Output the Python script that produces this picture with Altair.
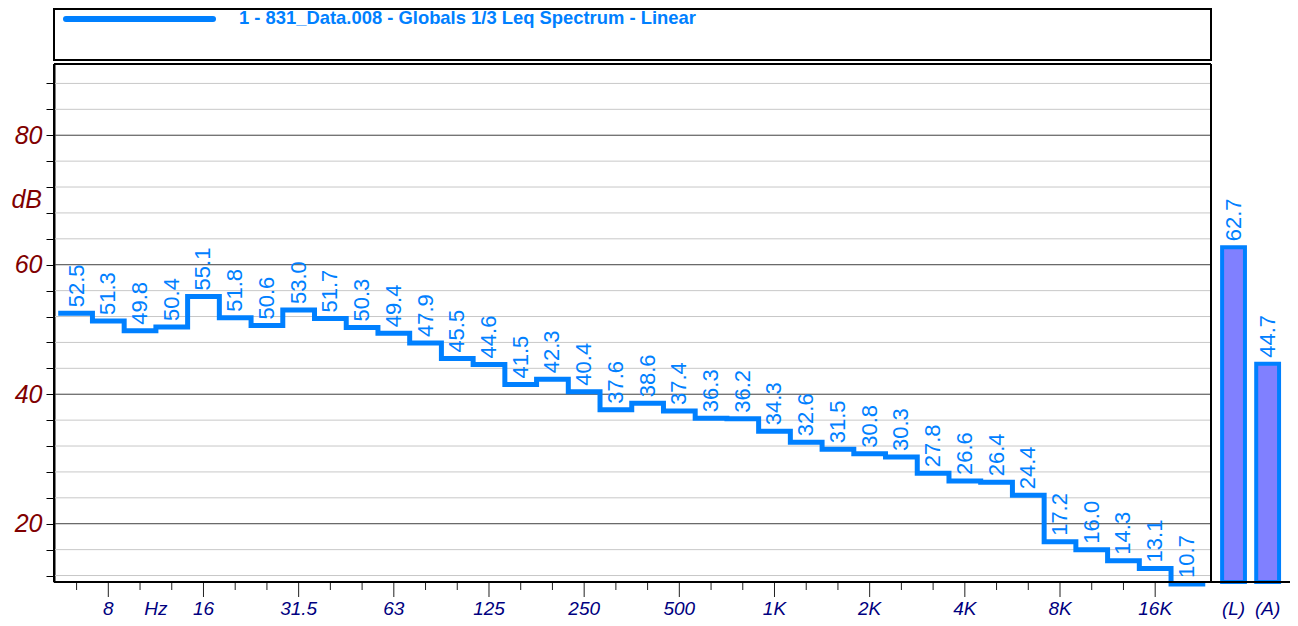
import altair as alt
import pandas as pd

# ---------------- data ----------------
bands = ["6.3", "8", "10", "12.5", "16", "20", "25", "31.5", "40", "50", "63", "80",
         "100", "125", "160", "200", "250", "315", "400", "500", "630", "800", "1K",
         "1.25K", "1.6K", "2K", "2.5K", "3.15K", "4K", "5K", "6.3K", "8K", "10K",
         "12.5K", "16K", "20K"]
levels = [52.5, 51.3, 49.8, 50.4, 55.1, 51.8, 50.6, 53.0, 51.7, 50.3, 49.4, 47.9,
          45.5, 44.6, 41.5, 42.3, 40.4, 37.6, 38.6, 37.4, 36.3, 36.2, 34.3, 32.6,
          31.5, 30.8, 30.3, 27.8, 26.6, 26.4, 24.4, 17.2, 16.0, 14.3, 13.1, 10.7]
ticked_bands = bands[:35]
labeled_bands = ["8", "16", "31.5", "63", "125", "250", "500", "1K", "2K", "4K", "8K", "16K"]
overall_names = ["(L)", "(A)"]
overall_levels = [62.7, 44.7]
y_ticks = list(range(12, 92, 4))
y_unit = "dB"
x_unit = "Hz"
legend_text = "1 - 831_Data.008 - Globals 1/3 Leq Spectrum - Linear"

# ---------------- layout / style ----------------
BLUE = "#0080ff"
FONT = "Liberation Sans"
W, H = 1236, 518
FRAME_R = 1157  # right edge of the spectrum frame (px)

xscale = alt.Scale(domain=[-0.712, 38.25], nice=False, zero=False)
yscale = alt.Scale(domain=[11, 91], nice=False, zero=False)

idx = {b: i for i, b in enumerate(bands)}
n = len(bands)

df_bands = pd.DataFrame({"x": list(range(n)), "v": levels})
df_step = pd.DataFrame({"x": [i - 0.5 for i in range(n)] + [n - 0.5],
                        "v": levels + [levels[-1]]})

bar_c = [36.47 + 1.075 * i for i in range(len(overall_names))]
df_bars = pd.DataFrame({"x1": [c - 0.36 for c in bar_c], "x2": [c + 0.36 for c in bar_c],
                        "x": bar_c, "v": overall_levels, "name": overall_names})

df_grid = pd.DataFrame({"v": y_ticks})
df_ticks_minor = pd.DataFrame({"x": [idx[b] for b in ticked_bands if b not in labeled_bands]})
df_ticks_major = pd.DataFrame({"x": [idx[b] for b in labeled_bands]})
df_xlab = pd.DataFrame({
    "x": [idx[b] for b in labeled_bands] + [(idx["10"] + idx["12.5"]) / 2] + bar_c,
    "t": labeled_bands + [x_unit] + overall_names,
})
one = pd.DataFrame({"a": [0]})

X = alt.X("x:Q", scale=xscale, axis=None)

yaxis = alt.Axis(values=y_ticks, labelExpr="datum.value % 20 == 0 ? datum.label : ''",
                 tickSize=8, tickColor="black", tickWidth=1, domainColor="black",
                 domainWidth=2, labelFont=FONT, labelFontSize=25, labelFontStyle="italic",
                 labelColor="#800000", labelPadding=4, grid=False, title=None,
                 labelOverlap=False)
Y = alt.Y("v:Q", scale=yscale, axis=yaxis)

grid = alt.Chart(df_grid).mark_rule(strokeWidth=1).encode(
    x=alt.value(0), x2=alt.value(FRAME_R), y=Y,
    color=alt.condition("datum.v % 20 == 0", alt.value("#404040"), alt.value("#c8c8c8")),
)

dB = alt.Chart(pd.DataFrame({"v": [70], "t": [y_unit]})).mark_text(
    align="right", baseline="middle", font=FONT, fontSize=25, fontStyle="italic",
    color="#800000").encode(x=alt.value(-12), y=Y, text="t:N")

frame_top = alt.Chart(one).mark_rule(color="black", strokeWidth=2).encode(
    x=alt.value(0), x2=alt.value(FRAME_R), y=alt.value(0))
frame_right = alt.Chart(one).mark_rule(color="black", strokeWidth=2).encode(
    x=alt.value(FRAME_R), y=alt.value(0), y2=alt.value(H))
frame_left = alt.Chart(one).mark_rule(color="black", strokeWidth=2).encode(
    x=alt.value(0), y=alt.value(0), y2=alt.value(H))
frame_bottom = alt.Chart(one).mark_rule(color="black", strokeWidth=2).encode(
    x=alt.value(0), x2=alt.value(W), y=alt.value(H))

leg_box = alt.Chart(one).mark_rect(fill="white", stroke="black", strokeWidth=2).encode(
    x=alt.value(0), x2=alt.value(FRAME_R), y=alt.value(-55), y2=alt.value(-4))
leg_line = alt.Chart(one).mark_rule(color=BLUE, strokeWidth=6, strokeCap="round").encode(
    x=alt.value(12), x2=alt.value(159), y=alt.value(-45))
leg_text = alt.Chart(pd.DataFrame({"t": [legend_text]})).mark_text(
    align="left", baseline="middle", font=FONT, fontSize=18.4, fontWeight="bold",
    color=BLUE).encode(x=alt.value(185), y=alt.value(-46), text="t:N")

step = alt.Chart(df_step).mark_line(interpolate="step-after", color=BLUE, strokeWidth=5,
                                     strokeJoin="miter", strokeCap="square").encode(
    x=X, y=Y)

step_lab = alt.Chart(df_bands).mark_text(angle=270, align="left", baseline="middle", dx=6,
                                         font=FONT, fontSize=22, color=BLUE).encode(
    x=X, y=Y, text=alt.Text("v:Q", format=".1f"))

bars = alt.Chart(df_bars).mark_rect(fill="#8080ff", stroke=BLUE, strokeWidth=4).encode(
    x=alt.X("x1:Q", scale=xscale, axis=None), x2="x2:Q",
    y=Y, y2=alt.datum(11))

bar_lab = alt.Chart(df_bars).mark_text(angle=270, align="left", baseline="middle", dx=6,
                                       font=FONT, fontSize=22, color=BLUE).encode(
    x=X, y=Y, text=alt.Text("v:Q", format=".1f"))

ticks_minor = alt.Chart(df_ticks_minor).mark_rule(color="#202020", strokeWidth=1).encode(
    x=X, y=alt.value(H + 1), y2=alt.value(H + 8))
ticks_major = alt.Chart(df_ticks_major).mark_rule(color="#202020", strokeWidth=1).encode(
    x=X, y=alt.value(H + 1), y2=alt.value(H + 15))

xlab = alt.Chart(df_xlab).mark_text(align="center", baseline="middle", font=FONT,
                                    fontSize=19, fontStyle="italic", color="#000080").encode(
    x=X, y=alt.value(H + 27), text="t:N")

chart = alt.layer(
    grid, dB, leg_box, leg_line, leg_text, frame_top, frame_right, frame_left,
    bars, step, step_lab, bar_lab, ticks_minor, ticks_major, frame_bottom, xlab,
).properties(
    width=W, height=H,
    autosize=alt.AutoSizeParams(type="none"),
    padding={"left": 46, "top": 56, "right": 0, "bottom": 38},
    background="white",
).configure_view(strokeWidth=0)

chart.save("out.html", embed_options={"renderer": "svg", "actions": False})
